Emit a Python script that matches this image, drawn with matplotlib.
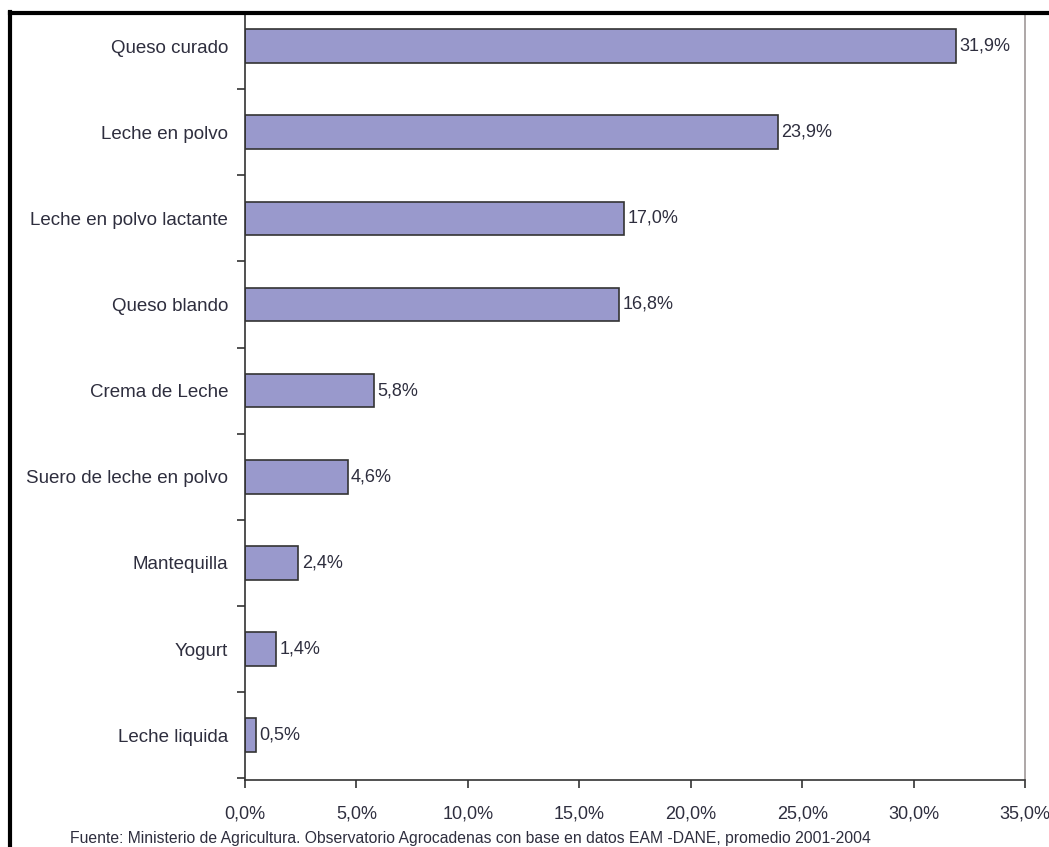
import numpy as np
import matplotlib.pyplot as plt
from matplotlib.lines import Line2D
from matplotlib.ticker import FixedLocator

plt.rcParams['font.family'] = ['Liberation Sans Narrow', 'Liberation Sans', 'DejaVu Sans']

# datos
productos = ['Queso curado', 'Leche en polvo', 'Leche en polvo lactante', 'Queso blando',
             'Crema de Leche', 'Suero de leche en polvo', 'Mantequilla', 'Yogurt', 'Leche liquida']
valores = [31.9, 23.9, 17.0, 16.8, 5.8, 4.6, 2.4, 1.4, 0.5]
xticks = [0, 5, 10, 15, 20, 25, 30, 35]
fuente = 'Fuente: Ministerio de Agricultura. Observatorio Agrocadenas con base en datos EAM -DANE, promedio 2001-2004'

txt = '#2e2e3e'
W, H = 1049, 847
fig = plt.figure(figsize=(W / 100, H / 100), dpi=100)
ax = fig.add_axes([245 / W, 1 - 780 / H, (1025 - 245) / W, (780 - 15) / H])

n = len(productos)
y = np.arange(n)[::-1]
ax.barh(y, valores, height=0.39, color='#9999cc', edgecolor='#333333', linewidth=1.2)
for yi, v in zip(y, valores):
    ax.text(v + 0.15, yi, f'{v:.1f}%'.replace('.', ','), va='center', ha='left',
            fontsize=13, color=txt)

ax.set_xlim(0, 35)
ax.set_ylim(-0.52, n - 1 + 0.36)
ax.set_yticks(y)
ax.set_yticklabels(productos, fontsize=13.5, color=txt)
ax.yaxis.set_minor_locator(FixedLocator(np.arange(-0.5, n - 1, 1.0)))
ax.tick_params(axis='y', which='major', length=0, pad=12)
ax.tick_params(axis='y', which='minor', length=6, width=1.2, color='#333333', direction='out')
ax.set_xticks(xticks)
ax.set_xticklabels([f'{t:.1f}%'.replace('.', ',') for t in xticks], fontsize=13, color=txt)
ax.tick_params(axis='x', length=6, width=1.2, color='#333333', pad=12)

for s in ['left', 'bottom']:
    ax.spines[s].set_color('#333333')
    ax.spines[s].set_linewidth(1.2)
ax.spines['right'].set_color('#a09898')
ax.spines['right'].set_linewidth(1.2)
ax.spines['top'].set_visible(False)

# marco
fig.add_artist(Line2D([10 / W, 10 / W], [0, 1 - 12 / H], color='black', linewidth=3))
fig.add_artist(Line2D([10 / W, 1], [1 - 13 / H, 1 - 13 / H], color='black', linewidth=3))

fig.text(70 / W, 1 - 838 / H, fuente, fontsize=11.3, color=txt, va='center', ha='left')

fig.savefig('out.png', dpi=100)
